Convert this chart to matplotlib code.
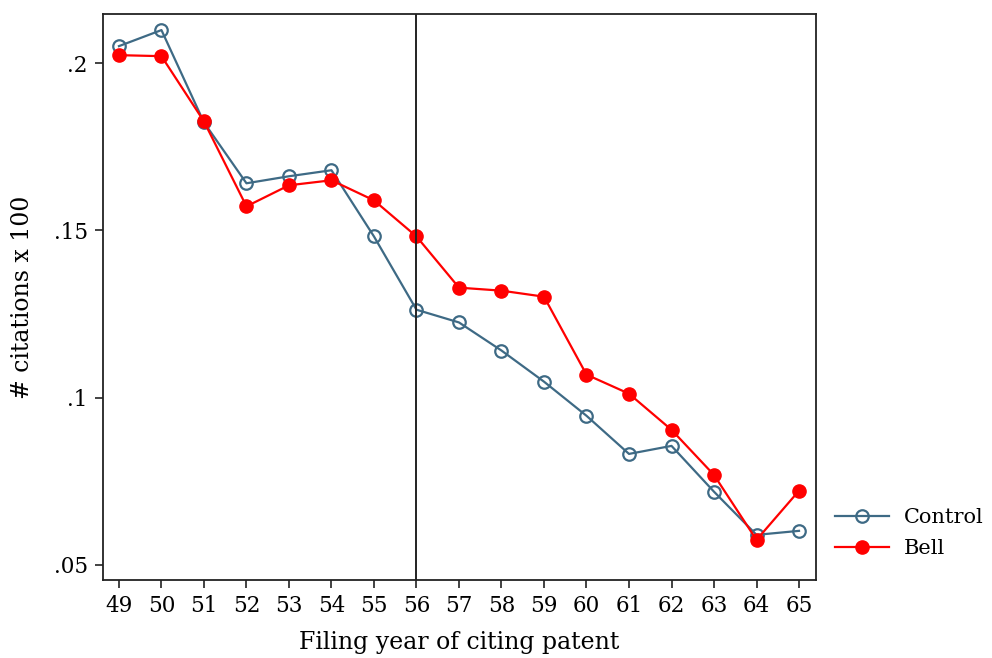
import matplotlib
matplotlib.use('Agg')
import matplotlib.pyplot as plt

plt.rcParams['font.family'] = ['DejaVu Serif']

years = list(range(49, 66))
control = [0.2051, 0.2099, 0.1823, 0.1641, 0.1662, 0.1680, 0.1482, 0.1263, 0.1225,
           0.1141, 0.1048, 0.0946, 0.0832, 0.0856, 0.0719, 0.0590, 0.0602]
bell = [0.2024, 0.2021, 0.1826, 0.1572, 0.1635, 0.1650, 0.1590, 0.1482, 0.1329,
        0.1320, 0.1302, 0.1069, 0.1012, 0.0904, 0.0769, 0.0575, 0.0722]
event_year = 56

yticks = [0.05, 0.10, 0.15, 0.20]
ytick_labels = ['.05', '.1', '.15', '.2']

fig = plt.figure(figsize=(9.92, 6.58), dpi=100)
ax = fig.add_axes([0.1038, 0.1185, 0.7188, 0.8602])

ax.plot(years, control, color='#3e6a85', lw=1.6, marker='o', ms=9,
        mfc='none', mew=1.6, label='Control')
ax.plot(years, bell, color='#ff0000', lw=1.6, marker='o', ms=9.5,
        mfc='#ff0000', mec='#ff0000', label='Bell')
ax.axvline(event_year, color='#222222', lw=1.4)

ax.set_xlim(48.624, 65.4)
ax.set_ylim(0.0455, 0.2147)
ax.set_xticks(years)
ax.set_yticks(yticks)
ax.set_yticklabels(ytick_labels)
ax.tick_params(labelsize=15.5, length=6, width=1.2, color='#222222', pad=5)
for s in ax.spines.values():
    s.set_linewidth(1.3)
    s.set_color('#222222')

ax.set_xlabel('Filing year of citing patent', fontsize=17, labelpad=10)
ax.set_ylabel('# citations x 100', fontsize=17, labelpad=14)

ax.legend(loc='center left', bbox_to_anchor=(1.027, 0.083), frameon=False,
          fontsize=15, handlelength=2.6, handletextpad=0.7, labelspacing=0.6,
          borderpad=0, borderaxespad=0)

fig.savefig('out.png', dpi=100)
